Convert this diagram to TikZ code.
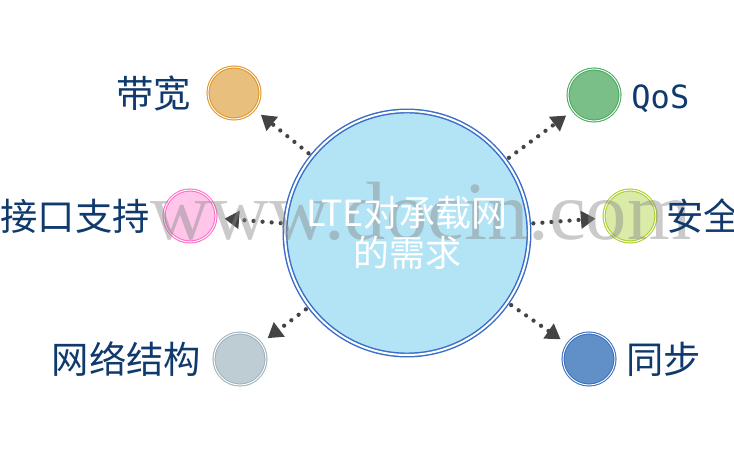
\documentclass[tikz,border=0pt]{standalone}
\usepackage{fontspec}
\setmainfont{Noto Sans CJK SC}
\newfontfamily\cjkfont{Noto Sans CJK SC}
\newfontfamily\markfont{Liberation Serif}
\newfontfamily\qosfont{DejaVu Sans Mono}
\usetikzlibrary{positioning,arrows.meta}
\definecolor{labelblue}{RGB}{16,58,110}
\definecolor{arrowgray}{RGB}{68,68,68}
\definecolor{markgray}{RGB}{138,138,138}
\definecolor{hubfill}{RGB}{179,228,245}
\definecolor{hubedge}{RGB}{58,110,200}
\definecolor{bwfill}{RGB}{232,191,124}
\definecolor{bwedge}{RGB}{224,150,42}
\definecolor{qosfill}{RGB}{122,190,136}
\definecolor{qosedge}{RGB}{76,170,96}
\definecolor{ifcfill}{RGB}{255,198,234}
\definecolor{ifcedge}{RGB}{255,110,200}
\definecolor{secfill}{RGB}{217,235,166}
\definecolor{secedge}{RGB}{168,208,40}
\definecolor{netfill}{RGB}{190,205,212}
\definecolor{netedge}{RGB}{160,180,188}
\definecolor{synfill}{RGB}{96,144,199}
\definecolor{synedge}{RGB}{60,112,190}

\begin{document}
\begin{tikzpicture}[x=0.75pt,y=-0.75pt,
  ball/.style={circle,minimum size=39pt,inner sep=0pt,line width=0.8pt,double=white,double distance=0.7pt},
  hub/.style={circle,minimum size=183pt,inner sep=0pt,fill=hubfill,draw=hubedge,line width=1.1pt,double=white,double distance=1.5pt},
  hubtext/.style={align=center,text=white,font=\cjkfont\fontsize{27}{30}\selectfont},
  lbl/.style={inner sep=0pt,text=labelblue,font=\cjkfont\fontsize{28}{28}\selectfont},
  link/.style={draw=arrowgray,line width=3.2pt,dash pattern=on 0pt off 6.8pt,line cap=round,
    -{Triangle[length=11pt,width=13pt]},shorten <=3pt,shorten >=6pt},
  wmark/.style={anchor=base west,inner sep=0pt,text=markgray,text opacity=0.45,font=\markfont\fontsize{62}{62}\selectfont}]
\useasboundingbox (0,0) rectangle (734,459);

% central circle and the six requirements
\node[hub] (lte) at (407,233) {};
\node[ball,fill=bwfill,draw=bwedge] (bw) at (234,93) {};
\node[ball,fill=qosfill,draw=qosedge] (qos) at (594,95) {};
\node[ball,fill=ifcfill,draw=ifcedge] (ifc) at (190,216) {};
\node[ball,fill=secfill,draw=secedge] (sec) at (630,216) {};
\node[ball,fill=netfill,draw=netedge] (net) at (240,359) {};
\node[ball,fill=synfill,draw=synedge] (syn) at (589,359) {};

% dotted arrows
\draw[link] (lte) -- (bw);
\draw[link] (lte) -- (qos);
\draw[link] (lte) -- (ifc);
\draw[link] (lte) -- (sec);
\draw[link] (lte) -- (net);
\draw[link] (lte) -- (syn);

\node[wmark] (docin) at (150,240) {www.docin.com};

% texts
\node[hubtext] (ltetext) at (lte) {LTE对承载网\\的需求};
\node[lbl,left=12pt of bw] (bwtext) {带宽};
\node[lbl,right=8pt of qos,yshift=-3pt,font=\qosfont\fontsize{24}{24}\selectfont] (qostext) {QoS};
\node[lbl,left=10pt of ifc] (ifctext) {接口支持};
\node[lbl,right=7pt of sec] (sectext) {安全};
\node[lbl,left=9pt of net] (nettext) {网络结构};
\node[lbl,right=8pt of syn] (syntext) {同步};
\end{tikzpicture}
\end{document}
